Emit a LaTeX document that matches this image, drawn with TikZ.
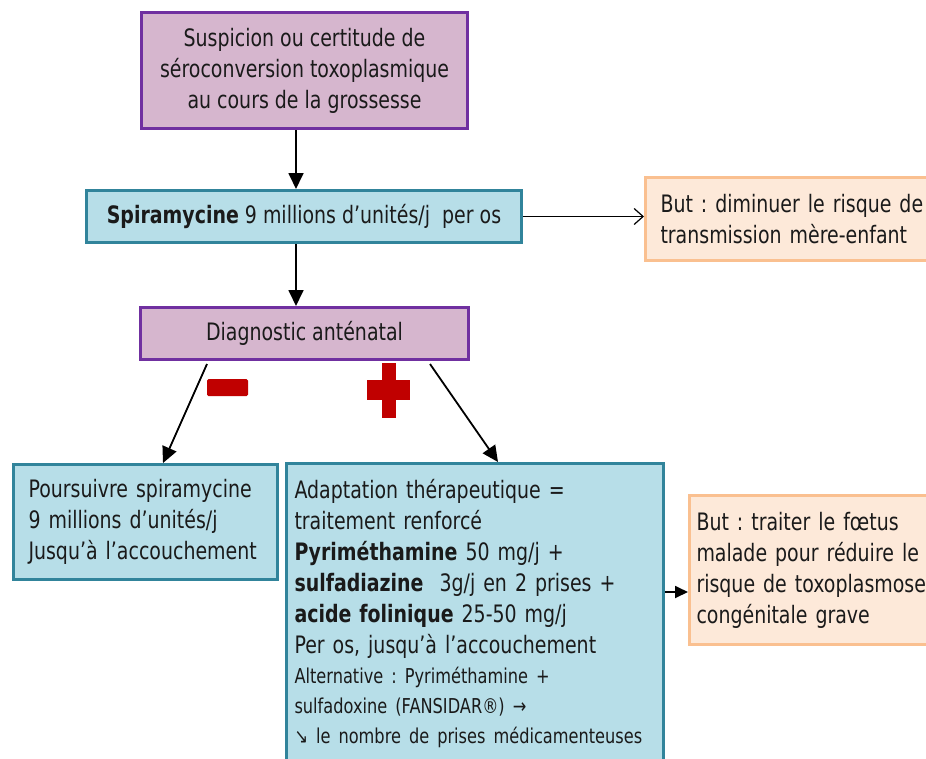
\documentclass[tikz,border=0pt]{standalone}
\usepackage{fontspec}
\setmainfont{DejaVu Sans}[FakeStretch=0.79]
\usetikzlibrary{arrows.meta}
\definecolor{purpB}{RGB}{112,48,160}
\definecolor{purpF}{RGB}{214,182,206}
\definecolor{tealB}{RGB}{49,132,155}
\definecolor{tealF}{RGB}{183,222,232}
\definecolor{orB}{RGB}{250,192,144}
\definecolor{orF}{RGB}{253,233,217}
\definecolor{redS}{RGB}{192,0,0}
\definecolor{txt}{RGB}{26,26,26}
\frenchspacing
\begin{document}
\begin{tikzpicture}[x=1pt,y=-1pt,
  every node/.style={text=txt},
  base/.style={rectangle, line width=3pt, anchor=north west, inner sep=0pt,
    font=\fontsize{24}{31}\selectfont},
  purple/.style={base, draw=purpB, fill=purpF},
  teal/.style={base, draw=tealB, fill=tealF},
  orange/.style={base, draw=orB, fill=orF},
  arr/.style={line width=1.8pt, -{Triangle[length=16pt,width=15pt]}},
  arrsm/.style={line width=1.8pt, -{Triangle[length=13pt,width=12pt]}},
  arropen/.style={line width=1.2pt, -{Straight Barb[length=9pt,width=16pt,line width=1.2pt]}}]
\useasboundingbox (0,0) rectangle (926,758);
\clip (0,0) rectangle (926,758);
\fill[white] (0,0) rectangle (926,758);

% boxes
\node[purple, minimum width=326pt, minimum height=116pt, align=center] (top) at (140,11)
  {Suspicion ou certitude de\\séroconversion toxoplasmique\\au cours de la grossesse};
\node[teal, minimum width=435pt, minimum height=52pt, align=center] (spir) at (85,189)
  {\textbf{Spiramycine} 9 millions d’unités/j\ \ per os};
\node[orange, text width=270pt, inner xsep=15pt, minimum height=83pt, align=left] (but1) at (644,176)
  {But : diminuer le risque de\\transmission mère-enfant};
\node[purple, minimum width=328pt, minimum height=52pt, align=center] (diag) at (139,306)
  {Diagnostic anténatal};
\node[teal, text width=234pt, inner xsep=15pt, minimum height=115pt, align=left] (left) at (12,463)
  {Poursuivre spiramycine\\9 millions d’unités/j\\Jusqu’à l’accouchement};
\node[teal, text width=361pt, inner xsep=8pt, inner ysep=16pt, align=left] (big) at (285,462)
  {Adaptation thérapeutique =\\traitement renforcé\\\textbf{Pyriméthamine} 50 mg/j +\\\textbf{sulfadiazine}\ \ 3g/j en 2 prises +\\\textbf{acide folinique} 25-50 mg/j\\Per os, jusqu’à l’accouchement\par
  \fontsize{20.5}{30}\selectfont Alternative : Pyriméthamine +\\sulfadoxine (FANSIDAR®) →\\↘ le nombre de prises médicamenteuses\par\vspace{20pt}};
\node[orange, text width=240pt, inner xsep=7pt, minimum height=149pt, align=left] (but2) at (688,494)
  {But : traiter le fœtus\\malade pour réduire le\\risque de toxoplasmose\\congénitale grave};

% connectors
\coordinate (ax) at (296,0);
\draw[arr] (top.south -| ax) -- (spir.north -| ax);
\draw[arr] (spir.south -| ax) -- (diag.north -| ax);
\draw[arropen] (spir.east) -- (spir.east -| but1.west);
\draw[arr] ([xshift=68pt,yshift=-3pt]diag.south west) -- ([xshift=151pt]left.north west);
\draw[arr] ([xshift=-40pt,yshift=-3pt]diag.south east) -- ([xshift=213pt]big.north west);
\draw[arrsm] ([yshift=-22pt]but2.west -| big.east) -- ([yshift=-22pt]but2.west);

% minus and plus signs
\fill[redS, rounded corners=1.5pt] (207,379) rectangle (248,396);
\fill[redS] (382,363) rectangle (396,418);
\fill[redS] (367,380) rectangle (410,400);
\end{tikzpicture}
\end{document}
